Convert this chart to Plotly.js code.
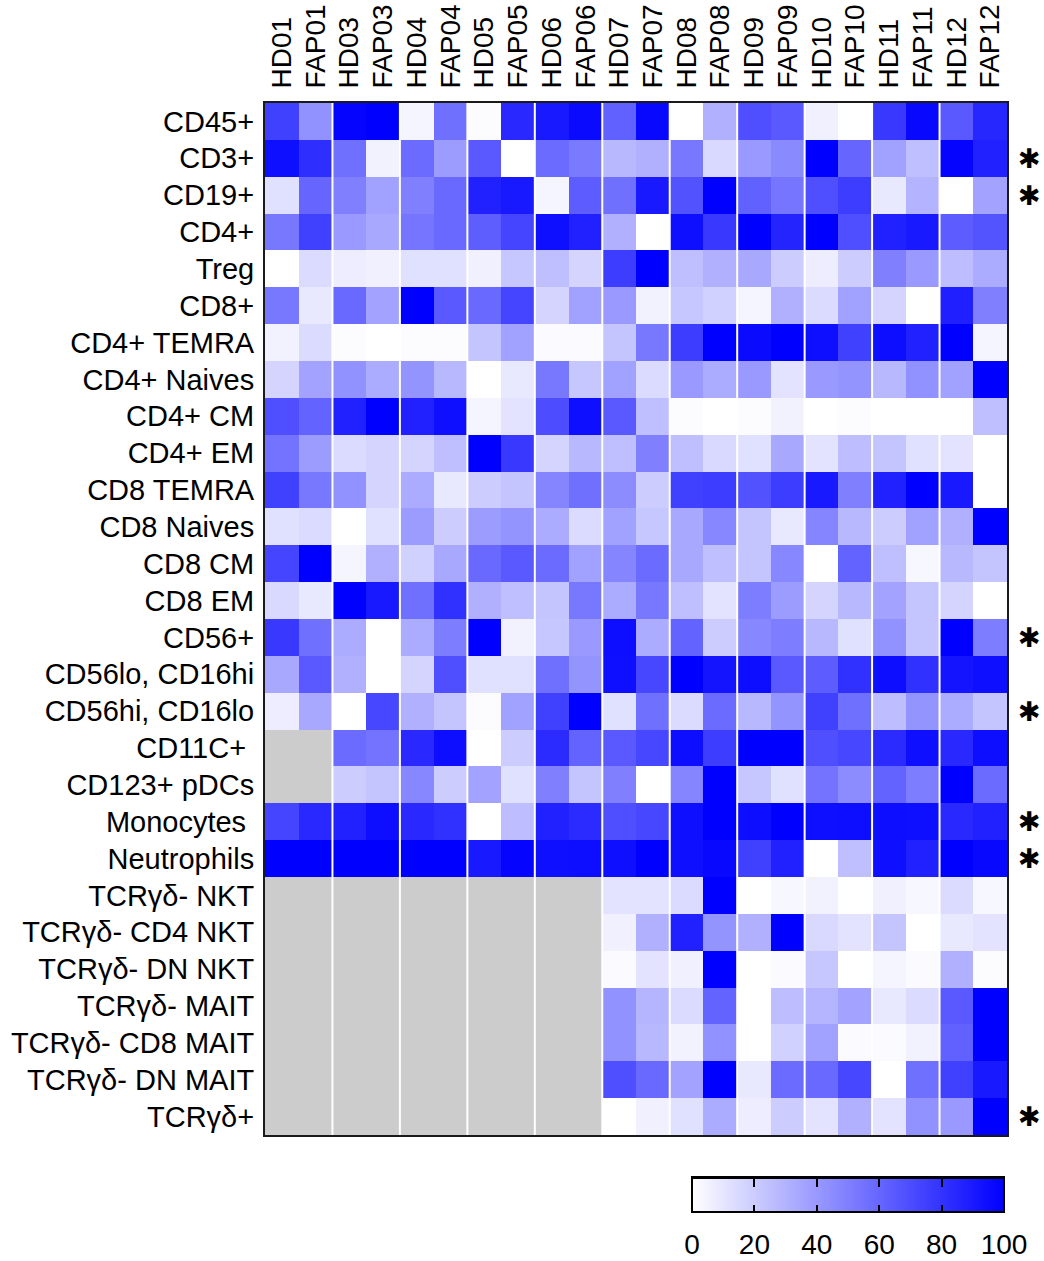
<!DOCTYPE html>
<html>
<head>
<meta charset="utf-8">
<script src="https://cdn.plot.ly/plotly-3.0.1.min.js"></script>
<style>
  html, body { margin: 0; padding: 0; background: #ffffff; }
  #chart { width: 1044px; height: 1261px; }
</style>
</head>
<body>
<div id="chart"></div>
<script>
// Column (sample) labels
const samples = ["HD01","FAP01","HD03","FAP03","HD04","FAP04","HD05","FAP05","HD06","FAP06",
                 "HD07","FAP07","HD08","FAP08","HD09","FAP09","HD10","FAP10","HD11","FAP11","HD12","FAP12"];

// Row (cell population) labels
const populations = ["CD45+","CD3+","CD19+","CD4+","Treg","CD8+","CD4+ TEMRA","CD4+ Naives","CD4+ CM","CD4+ EM",
  "CD8 TEMRA","CD8 Naives","CD8 CM","CD8 EM","CD56+","CD56lo, CD16hi","CD56hi, CD16lo","CD11C+\u00a0",
  "CD123+ pDCs","Monocytes\u00a0","Neutrophils","TCRγδ- NKT","TCRγδ- CD4 NKT","TCRγδ- DN NKT","TCRγδ- MAIT",
  "TCRγδ- CD8 MAIT","TCRγδ- DN MAIT","TCRγδ+"];

// Populations flagged with a significance asterisk
const significant = ["CD3+","CD19+","CD56+","CD56hi, CD16lo","Monocytes\u00a0","Neutrophils","TCRγδ+"];

// Values (0-100), one array per population, columns in sample order; null = not measured
const vCD45     = [75,43,98,100,4,56,1,84,90,96,62,97,0,31,69,65,6,0,78,97,65,85];
const vCD3      = [94,82,56,5,58,39,65,0,58,52,28,31,53,15,40,46,100,60,37,25,98,87];
const vCD19     = [12,60,50,37,50,59,87,90,4,64,56,90,68,100,62,54,69,76,9,30,0,36];
const vCD4      = [53,75,40,34,54,59,63,73,94,87,31,0,94,78,100,86,100,69,87,90,64,67];
const vTreg     = [0,14,7,6,12,12,6,22,25,17,76,100,25,31,34,20,7,20,50,40,26,33];
const vCD8      = [53,9,59,36,100,65,59,73,17,37,40,5,22,18,4,31,14,37,17,0,88,50];
const vCD4TEMRA = [5,14,1,0,1,1,23,37,2,2,23,53,76,100,96,100,94,75,95,87,100,4];
const vCD4Naive = [17,36,43,33,42,28,0,9,53,22,37,14,40,33,40,11,40,42,28,43,37,100];
const vCD4CM    = [69,61,87,100,87,94,4,11,70,94,65,25,1,0,1,5,0,1,0,0,0,25];
const vCD4EM    = [55,39,14,17,17,25,100,78,17,28,25,50,25,15,12,34,11,26,23,12,11,0];
const vCD8TEMRA = [75,53,43,17,33,9,20,23,48,56,45,20,75,76,68,76,90,50,87,100,90,0];
const vCD8Naive = [12,14,0,12,39,20,39,42,33,14,37,22,34,47,23,9,48,28,20,37,31,100];
const vCD8CM    = [73,100,4,31,18,34,59,65,58,37,48,58,34,25,23,47,0,61,25,3,28,23];
const vCD8EM    = [15,9,100,90,56,81,31,25,23,53,33,53,25,11,51,39,17,28,36,23,17,0];
const vCD56     = [78,56,33,0,33,51,100,5,22,40,95,33,61,20,47,51,28,12,43,23,100,51];
const vCD56lo   = [34,65,31,0,17,69,12,12,56,42,94,72,100,92,95,65,64,81,95,81,92,94];
const vCD56hi   = [7,34,0,72,31,23,1,37,75,100,12,56,14,58,28,42,75,56,26,42,33,23];
const vCD11C    = [null,null,58,55,84,95,0,20,83,61,65,72,95,76,100,100,69,72,83,94,84,95];
const vCD123    = [null,null,20,23,47,20,36,12,50,23,50,0,48,100,22,12,55,45,61,51,100,58];
const vMono     = [73,84,87,95,84,81,0,26,87,83,69,72,94,100,95,100,94,95,95,94,84,87];
const vNeutro   = [100,100,100,100,100,100,90,98,94,95,94,100,94,97,75,87,0,25,94,87,100,97];
const vNKT      = [null,null,null,null,null,null,null,null,null,null,11,11,14,100,0,3,5,0,6,3,14,3];
const vCD4NKT   = [null,null,null,null,null,null,null,null,null,null,6,31,87,42,31,100,15,11,23,0,9,11];
const vDNNKT    = [null,null,null,null,null,null,null,null,null,null,2,11,6,100,0,2,22,0,4,2,31,1];
const vMAIT     = [null,null,null,null,null,null,null,null,null,null,43,29,14,61,0,26,29,36,9,14,65,100];
const vCD8MAIT  = [null,null,null,null,null,null,null,null,null,null,43,28,5,43,0,18,37,2,2,5,62,100];
const vDNMAIT   = [null,null,null,null,null,null,null,null,null,null,69,59,36,100,9,58,59,72,0,56,75,90];
const vTCRgd    = [null,null,null,null,null,null,null,null,null,null,0,6,12,33,7,20,11,31,11,43,40,100];

// Colour bar ticks
const cbTicks = [0,20,40,60,80,100];

const zRows = [vCD45,vCD3,vCD19,vCD4,vTreg,vCD8,vCD4TEMRA,vCD4Naive,vCD4CM,vCD4EM,vCD8TEMRA,vCD8Naive,
  vCD8CM,vCD8EM,vCD56,vCD56lo,vCD56hi,vCD11C,vCD123,vMono,vNeutro,vNKT,vCD4NKT,vDNNKT,vMAIT,vCD8MAIT,vDNMAIT,vTCRgd];

const FONT = "Liberation Sans, Arial, Helvetica, sans-serif";
const SCALE = [[0, "#ffffff"], [1, "#0000ff"]];

// shared colour-bar geometry
const CB_Y = -0.0407;
const cbBase = {
  orientation: "h",
  x: 0.5755, xanchor: "left",
  y: CB_Y, yanchor: "top",
  len: 0.42, lenmode: "fraction",
  thickness: 35,
  xpad: 0, ypad: 0,
  tickmode: "array", tickvals: cbTicks, ticktext: cbTicks.map(String)
};

// main heatmap: its colour bar carries the tick labels
const trace = {
  type: "heatmap",
  x: samples,
  y: populations,
  z: zRows,
  zmin: 0, zmax: 100,
  colorscale: SCALE,
  hoverongaps: false,
  colorbar: Object.assign({}, cbBase, {
    outlinewidth: 2, outlinecolor: "#000000",
    ticks: "outside", ticklen: 8, tickcolor: "rgba(0,0,0,0)",
    tickfont: { family: FONT, size: 28, color: "#000000" }
  })
};

// invisible marker traces used only to draw tick marks on the colour bar (bottom and top edges)
const tickBarBottom = {
  type: "scatter", mode: "markers", x: [null], y: [null], hoverinfo: "skip", showlegend: false,
  marker: {
    color: [0], cmin: 0, cmax: 100, colorscale: SCALE, showscale: true,
    colorbar: Object.assign({}, cbBase, {
      outlinewidth: 2, outlinecolor: "#000000",
      ticks: "inside", ticklen: 8, tickwidth: 2, tickcolor: "#000000",
      showticklabels: false
    })
  }
};
const tickBarTop = {
  type: "scatter", mode: "markers", x: [null], y: [null], hoverinfo: "skip", showlegend: false,
  marker: {
    color: [0], cmin: 0, cmax: 100, colorscale: [[0, "#000000"], [1, "#000000"]], showscale: true,
    colorbar: Object.assign({}, cbBase, {
      thickness: 1,
      outlinewidth: 0,
      ticks: "outside", ticklen: 9, tickwidth: 2, tickcolor: "#000000",
      showticklabels: false
    })
  }
};

// white separators between subject pairs
const shapes = [];
for (let i = 1; i < samples.length / 2; i++) {
  shapes.push({
    type: "line", xref: "x", yref: "paper",
    x0: 2 * i - 0.5, x1: 2 * i - 0.5, y0: 0, y1: 1,
    line: { color: "#ffffff", width: 2 }, layer: "above"
  });
}

const annotations = significant.map(p => ({
  xref: "paper", yref: "y", x: 1.012, y: p, xanchor: "left", yanchor: "middle",
  text: "✱", showarrow: false,
  font: { family: "DejaVu Sans", size: 27, color: "#000000" }
}));

const layout = {
  width: 1044, height: 1261,
  margin: { l: 265, r: 37, t: 103, b: 126, pad: 0, autoexpand: false },
  paper_bgcolor: "#ffffff",
  plot_bgcolor: "#cccccc",
  font: { family: FONT, color: "#000000" },
  xaxis: {
    side: "top", type: "category", tickangle: -90,
    tickmode: "array", tickvals: samples, ticktext: samples,
    tickfont: { family: FONT, size: 28, color: "#000000" },
    ticks: "outside", ticklen: 7, tickcolor: "rgba(0,0,0,0)",
    showgrid: false, zeroline: false,
    showline: true, mirror: true, linecolor: "#1a1a1a", linewidth: 2,
    fixedrange: true
  },
  yaxis: {
    type: "category", autorange: "reversed",
    tickmode: "array", tickvals: populations, ticktext: populations,
    tickfont: { family: FONT, size: 29, color: "#000000" },
    ticks: "outside", ticklen: 3, tickcolor: "rgba(0,0,0,0)",
    showgrid: false, zeroline: false,
    showline: true, mirror: true, linecolor: "#1a1a1a", linewidth: 2,
    fixedrange: true
  },
  shapes: shapes,
  annotations: annotations,
  showlegend: false
};

Plotly.newPlot("chart", [trace, tickBarBottom, tickBarTop], layout, { displayModeBar: false, staticPlot: true });
</script>
</body>
</html>
